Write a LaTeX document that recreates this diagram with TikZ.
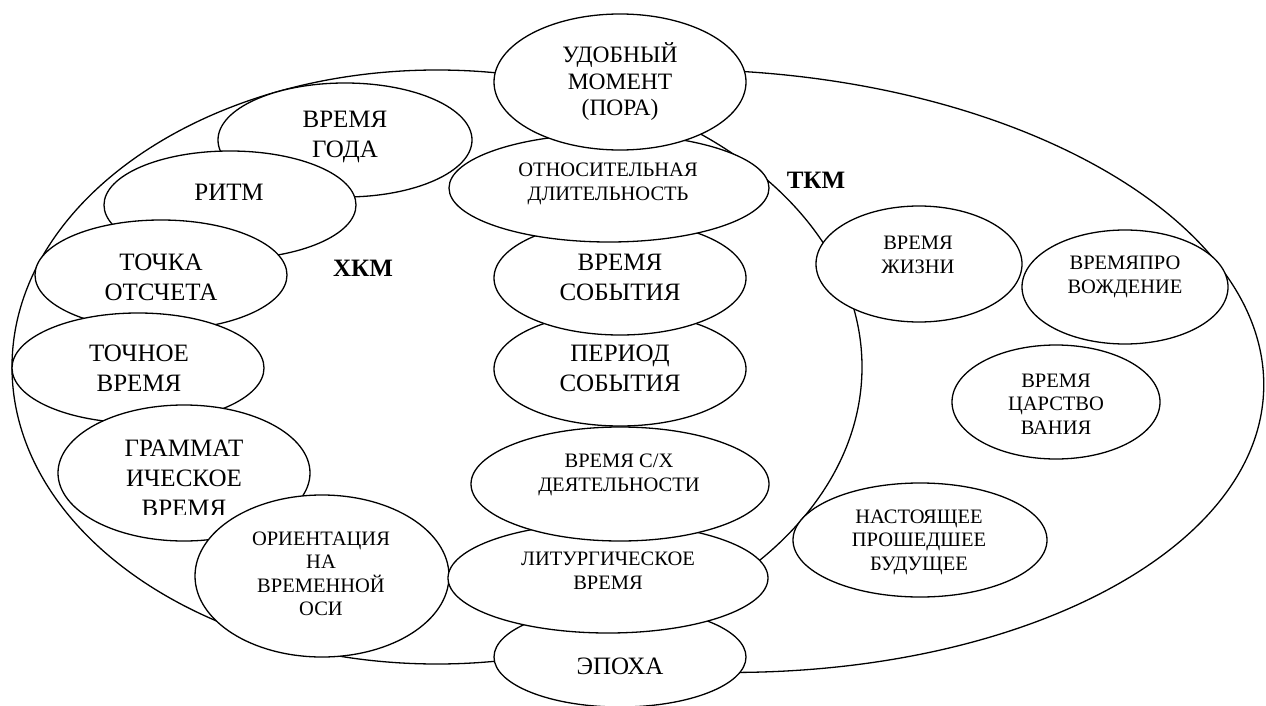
\documentclass[tikz,border=0pt]{standalone}
\usepackage{fontspec}
\setmainfont{Liberation Serif}
\usetikzlibrary{shapes.geometric}
\begin{document}
\begin{tikzpicture}[x=1pt,y=-1pt,
  el/.style={ellipse, draw=black, line width=1.3pt, fill=white, inner sep=0pt, outer sep=0pt},
  big/.style={font=\fontsize{25}{30}\selectfont, align=center, inner sep=0pt},
  med/.style={font=\fontsize{20.5}{24}\selectfont, align=center, inner sep=0pt},
  medt/.style={font=\fontsize{20.5}{23.5}\selectfont, align=center, inner sep=0pt},
  lbl/.style={font=\bfseries\fontsize{25}{30}\selectfont, inner sep=0pt}]
\useasboundingbox (0,0) rectangle (1266,706);
% outer regions
\node[el, fill=none, rotate=-2, minimum width=1118pt, minimum height=602pt] (tkm) at (705,371) {};
\node[el, minimum width=850pt, minimum height=594pt] (hkm) at (437,367) {};
\node[lbl] (lhkm) at (363,268) {ХКМ};
\node[lbl] (ltkm) at (816,180) {ТКМ};
% left column
\node[el, minimum width=254pt, minimum height=114pt] (vg) at (345,140) {};
\node[big] (tvg) at (345,137) {ВРЕМЯ\\ГОДА};
\node[el, minimum width=252pt, minimum height=108pt] (ritm) at (230,205) {};
\node[big] (tritm) at (229,192) {РИТМ};
\node[el, minimum width=252pt, minimum height=110pt] (tochka) at (161,275) {};
\node[big] (ttochka) at (161,277) {ТОЧКА\\ОТСЧЕТА};
\node[el, minimum width=252pt, minimum height=110pt] (tochnoe) at (138,368) {};
\node[big] (ttochnoe) at (139,368) {ТОЧНОЕ\\ВРЕМЯ};
\node[el, minimum width=252pt, minimum height=136pt] (gramm) at (184,473) {};
\begin{scope}
  \clip (0,380) rectangle (400,514);
  \node[big] (tgramm) at (184,478) {ГРАММАТ\\ИЧЕСКОЕ\\ВРЕМЯ};
\end{scope}
\node[el, minimum width=254pt, minimum height=162pt] (orient) at (322,576) {};
\node[medt] (torient) at (321,574) {ОРИЕНТАЦИЯ\\НА\\ВРЕМЕННОЙ\\ОСИ};
% centre column
\node[el, minimum width=252pt, minimum height=100pt] (epoha) at (620,657) {};
\node[big] (tepoha) at (620,666) {ЭПОХА};
\node[el, minimum width=320pt, minimum height=110pt] (litur) at (608,578) {};
\node[med] (tlitur) at (608,571) {ЛИТУРГИЧЕСКОЕ\\ВРЕМЯ};
\node[el, minimum width=298pt, minimum height=114pt] (sh) at (620,484) {};
\node[med] (tsh) at (619,475) {ВРЕМЯ С/Х\\ДЕЯТЕЛЬНОСТИ};
\node[el, minimum width=252pt, minimum height=114pt] (period) at (620,369) {};
\node[big] (tperiod) at (620,368) {ПЕРИОД\\СОБЫТИЯ};
\node[el, minimum width=252pt, minimum height=114pt] (sob) at (620,278) {};
\node[big] (tsob) at (620,277) {ВРЕМЯ\\СОБЫТИЯ};
\node[el, minimum width=320pt, minimum height=108pt] (otn) at (609,188) {};
\node[med] (totn) at (608,184) {ОТНОСИТЕЛЬНАЯ\\ДЛИТЕЛЬНОСТЬ};
\node[el, minimum width=252pt, minimum height=136pt] (udob) at (620,82) {};
\node[font=\fontsize{23.5}{26.5}\selectfont, align=center, inner sep=0pt] (tudob) at (620,82) {УДОБНЫЙ\\МОМЕНТ\\(ПОРА)};
% right side
\node[el, minimum width=206pt, minimum height=116pt] (zhizn) at (919,264) {};
\node[med] (tzhizn) at (918,255) {ВРЕМЯ\\ЖИЗНИ};
\node[el, minimum width=206pt, minimum height=114pt] (provozh) at (1125,287) {};
\node[med] (tprovozh) at (1125,277) {ВРЕМЯПРО\\ВОЖДЕНИЕ};
\node[el, minimum width=208pt, minimum height=114pt] (carst) at (1056,402) {};
\node[medt] (tcarst) at (1056,404) {ВРЕМЯ\\ЦАРСТВО\\ВАНИЯ};
\node[el, minimum width=254pt, minimum height=114pt] (nast) at (920,540) {};
\node[medt] (tnast) at (919,542) {НАСТОЯЩЕЕ\\ПРОШЕДШЕЕ\\БУДУЩЕЕ};
\end{tikzpicture}
\end{document}
